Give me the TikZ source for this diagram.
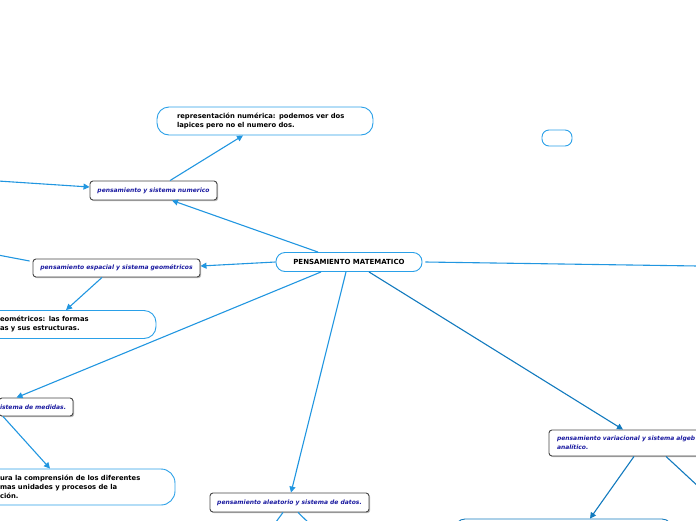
\documentclass[tikz,border=0pt]{standalone}
\usepackage{fontspec}
\setmainfont{DejaVu Sans}
\usetikzlibrary{arrows.meta,shadows,calc}
\definecolor{lineblue}{RGB}{33,150,224}
\definecolor{darkline}{RGB}{18,122,190}
\definecolor{boxblue}{RGB}{42,160,232}
\definecolor{labelblue}{RGB}{26,26,160}
\definecolor{boxgrey}{RGB}{70,70,70}
\tikzset{
  x=1pt, y=-1pt,
  bluebox/.style={draw=boxblue, line width=0.9pt, fill=white, rounded corners=9pt,
    font=\fontsize{6.8}{9}\selectfont\bfseries, text=black, align=left, inner ysep=0pt},
  greybox/.style={draw=boxgrey, line width=0.9pt, fill=white, rounded corners=3pt,
    drop shadow={shadow xshift=1.2pt, shadow yshift=-1.2pt, fill=black!45, opacity=0.6},
    font=\fontsize{6}{9}\selectfont\bfseries\itshape, text=labelblue, align=left, inner ysep=0pt},
  conn/.style={draw=lineblue, line width=1.1pt},
  arr/.style={conn, -{Triangle[length=6pt,width=6pt]}},
  darr/.style={draw=darkline, line width=1.1pt, -{Triangle[length=6pt,width=6pt]}},
  dconn/.style={draw=darkline, line width=1.1pt},
}
\begin{document}
\begin{tikzpicture}
\useasboundingbox (0,0) rectangle (696,520);
\clip (0,0) rectangle (696,520);
% nodes
\node[bluebox, minimum width=216pt, minimum height=28pt, text width=176pt, inner xsep=20pt, rounded corners=12pt] (rep) at (265,121)
  {representación numérica: podemos ver dos\\lapices pero no el numero dos.};
\node[greybox, minimum width=127pt, minimum height=19pt, inner xsep=0pt, align=center] (num) at (153.5,190.5)
  {pensamiento y sistema numerico};
\node[bluebox, minimum width=146pt, minimum height=19pt, inner xsep=0pt, align=center, font=\fontsize{7}{9}\selectfont\bfseries] (root) at (349,262)
  {PENSAMIENTO MATEMATICO};
\node[greybox, minimum width=167pt, minimum height=18pt, inner xsep=0pt, align=center] (esp) at (116.5,268)
  {pensamiento espacial y sistema geométricos};
\node[bluebox, minimum width=176pt, minimum height=28pt, text width=136pt, inner xsep=20pt, rounded corners=12pt] (geom) at (68,324.5)
  {eométricos: las formas\\as y sus estructuras.};
\node[greybox, minimum width=74pt, minimum height=18pt, text width=72pt, inner xsep=1pt] (med) at (36,407)
  {istema de medidas.};
\node[bluebox, minimum width=195pt, minimum height=36pt, text width=155pt, inner xsep=20pt, rounded corners=14pt] (comp) at (77.5,487)
  {ura la comprensión de los diferentes\\mas unidades y procesos de la\\ción.};
\node[greybox, minimum width=159pt, minimum height=19pt, inner xsep=0pt, align=center] (ale) at (289.5,502.5)
  {pensamiento aleatorio y sistema de datos.};
\node[greybox, minimum width=211pt, minimum height=26pt, text width=195pt, inner xsep=8pt] (var) at (654.5,443)
  {pensamiento variacional y sistema algeb\\analítico.};
\node[bluebox, minimum width=30pt, minimum height=16pt, inner sep=0pt, rounded corners=7pt] (empty) at (557,138) {};
\node[bluebox, draw=darkline, minimum width=217pt, minimum height=30pt, inner sep=0pt, rounded corners=10pt] (bot) at (563.5,534) {};
% free ends
\coordinate (numleft) at (-2,181);
\coordinate (espleft) at (-2,255);
\coordinate (aleL) at (273,526);
\coordinate (aleR) at (312,526);
\coordinate (rootright) at (698,266);
\coordinate (varright) at (700,488);
% connectors
\draw[arr] ([xshift=-31pt]root.north) -- ([xshift=18.5pt]num.south);
\draw[arr] ([xshift=16.5pt]num.north) -- ([xshift=-22pt]rep.south);
\draw[arr] (numleft) -- ([yshift=3.5pt]num.west);
\draw[arr] (root.west) -- ([yshift=2pt]esp.east);
\draw[conn] ([xshift=-3pt,yshift=7pt]esp.west) -- (espleft);
\draw[arr] ([xshift=-14.5pt]esp.south) -- ([xshift=-2pt]geom.north);
\draw[arr] ([xshift=-28pt]root.south) -- ([xshift=-19.5pt]med.north);
\draw[arr] ([xshift=-33pt]med.south) -- ([xshift=-27.5pt]comp.north);
\draw[arr] ([xshift=-3pt]root.south) -- ([xshift=1.5pt]ale.north);
\draw[conn] ([xshift=-6.5pt]ale.south) -- (aleL);
\draw[conn] ([xshift=8.5pt]ale.south) -- (aleR);
\draw[darr] ([xshift=20pt]root.south) -- ([xshift=-31.5pt]var.north);
\draw[conn] ([xshift=3pt]root.east) -- (rootright);
\draw[darr] ([xshift=-20.5pt]var.south) -- ([xshift=26.5pt]bot.north);
\draw[dconn] ([xshift=11.5pt]var.south) -- (varright);
\end{tikzpicture}
\end{document}
